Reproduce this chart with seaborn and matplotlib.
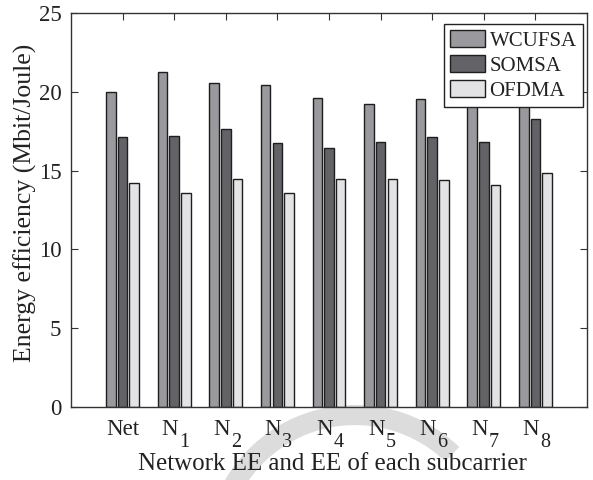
import numpy as np
import pandas as pd
import matplotlib
matplotlib.use('Agg')
import matplotlib.pyplot as plt
from matplotlib.patches import Arc, Patch
import seaborn as sns

sns.set_style('ticks')
plt.rcParams['font.family'] = ['Liberation Serif', 'DejaVu Serif']
plt.rcParams['text.color'] = '#222222'

# data
groups = ['Net', 'N1', 'N2', 'N3', 'N4', 'N5', 'N6', 'N7', 'N8']
subs = ['', '1', '2', '3', '4', '5', '6', '7', '8']   # subscript of each group label
methods = ['WCUFSA', 'SOMSA', 'OFDMA']
wcufsa = [20.0, 21.27, 20.6, 20.42, 19.64, 19.24, 19.55, 19.9, 19.45]
somsa = [17.13, 17.2, 17.64, 16.77, 16.43, 16.8, 17.15, 16.83, 18.28]
ofdma = [14.22, 13.59, 14.5, 13.6, 14.44, 14.44, 14.38, 14.08, 14.82]
colors = ['#9a9a9e', '#636367', '#e3e3e5']

df = pd.DataFrame({'group': groups * 3,
                   'method': np.repeat(methods, len(groups)),
                   'ee': wcufsa + somsa + ofdma})

fig = plt.figure(figsize=(5.93, 4.8), dpi=100)

# faint watermark arc behind everything
bg = fig.add_axes([0, 0, 1, 1], zorder=0)
bg.set_xlim(0, 593)
bg.set_ylim(480, 0)
bg.axis('off')
bg.add_patch(Arc((355, 555), 280, 280, theta1=-180, theta2=-46,
                 color='#dcdcdc', lw=14.5, capstyle='butt'))

ax = fig.add_axes([0.1197, 0.1527, 0.8702, 0.8196], zorder=1)
ax.patch.set_alpha(0)
sns.barplot(data=df, x='group', y='ee', hue='method', palette=colors,
            width=0.68, gap=0.18, edgecolor='#1e1e1e', linewidth=1,
            saturation=1, ax=ax, legend=False)

ax.set_xlim(-1, 9)
ax.set_ylim(0, 25)
ax.set_yticks([0, 5, 10, 15, 20, 25])
ax.set_xticks(range(len(groups)))
ax.set_xticklabels([])
ax.tick_params(direction='in', top=True, right=True, length=5, width=0.8,
               color='#333333', labelsize=16.5, labelcolor='#222222', pad=7)
for s in ax.spines.values():
    s.set_visible(True)
    s.set_color('#333333')
    s.set_linewidth(1)
ax.set_xlabel('')
ax.set_ylabel('')

# group labels with low-set subscripts, matlab style
for i, sub in enumerate(subs):
    if sub == '':
        ax.annotate('Net', xy=(i, 0), xycoords=('data', 'axes fraction'),
                    xytext=(0, -28.5), textcoords='offset pixels',
                    ha='center', va='baseline', fontsize=16.5)
    else:
        ax.annotate('N', xy=(i, 0), xycoords=('data', 'axes fraction'),
                    xytext=(4, -28.5), textcoords='offset pixels',
                    ha='right', va='baseline', fontsize=16.5)
        ax.annotate(sub, xy=(i, 0), xycoords=('data', 'axes fraction'),
                    xytext=(5, -40.5), textcoords='offset pixels',
                    ha='left', va='baseline', fontsize=14.5)

fig.text(0.56, 10 / 480, 'Network EE and EE of each subcarrier',
         ha='center', va='baseline', fontsize=18)
fig.text(0.042, 0.577, 'Energy efficiency (Mbit/Joule)',
         rotation=90, ha='center', va='center', fontsize=18.5)

handles = [Patch(facecolor=c, edgecolor='#1e1e1e', linewidth=1) for c in colors]
leg = ax.legend(handles, methods, loc='upper right', bbox_to_anchor=(0.992, 0.973),
                borderaxespad=0, fancybox=False, framealpha=1, edgecolor='#222222',
                fontsize=15, handlelength=1.7, handleheight=0.9,
                handletextpad=0.2, labelspacing=0.2, borderpad=0.3)
leg.get_frame().set_linewidth(1)

fig.savefig('out.png', dpi=100)
